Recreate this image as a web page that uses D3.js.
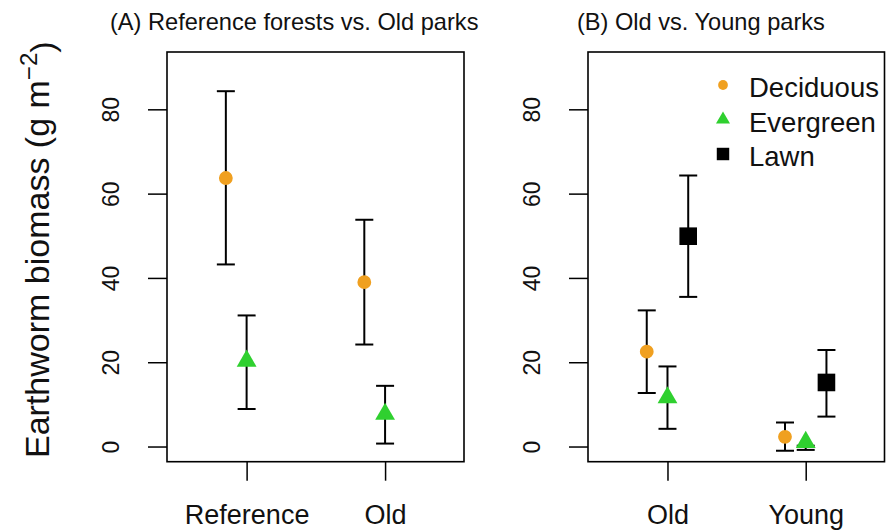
<!DOCTYPE html>
<html>
<head>
<meta charset="utf-8">
<script src="https://cdn.jsdelivr.net/npm/d3@7"></script>
<style>
  body { margin: 0; background: #fff; }
  svg { display: block; font-family: "Liberation Sans", Arial, sans-serif; }
</style>
</head>
<body>
<div class="chart"></div>
<script>
// panel categories
var catsA = ["Reference", "Old"];
var catsB = ["Old", "Young"];
var yTicks = [0, 20, 40, 60, 80];

// (A) Reference forests vs. Old parks
var decidA_mean = [63.7, 39.0];
var decidA_lo = [43.2, 24.2];
var decidA_hi = [84.3, 53.8];
var everA_mean = [20.3, 7.7];
var everA_lo = [8.9, 0.7];
var everA_hi = [31.1, 14.4];

// (B) Old vs. Young parks
var decidB_mean = [22.5, 2.3];
var decidB_lo = [12.7, -1.0];
var decidB_hi = [32.3, 5.7];
var everB_mean = [11.6, 1.0];
var everB_lo = [4.2, -0.8];
var everB_hi = [19.0, 0.2];
var lawnB_mean = [49.9, 15.2];
var lawnB_lo = [35.5, 7.1];
var lawnB_hi = [64.3, 22.9];

var legendNames = ["Deciduous", "Evergreen", "Lawn"];

var W = 893, H = 530;
var top_ = 52, bottom_ = 461.7;
var colors = { Deciduous: "#f0a020", Evergreen: "#2fd02f", Lawn: "#000000" };
var shapes = { Deciduous: d3.symbolCircle, Evergreen: d3.symbolTriangle, Lawn: d3.symbolSquare };
var sizes = { Deciduous: 150, Evergreen: 170, Lawn: 310 };
var offsets = { Deciduous: -0.15, Evergreen: 0, Lawn: 0.15 };

var svg = d3.select(".chart").append("svg")
  .attr("width", W)
  .attr("height", H);

var y = d3.scaleLinear().domain([-3.6, 93.6]).range([bottom_, top_]);

function makeSeries(name, mean, lo, hi) {
  var out = [];
  for (var i = 0; i < mean.length; i++) {
    out.push({ name: name, i: i + 1, mean: mean[i], lo: lo[i], hi: hi[i] });
  }
  return out;
}

function drawPanel(left, right, title, titleX, cats, series) {
  var x = d3.scaleLinear().domain([0.425, 2.57]).range([left, right]);
  var g = svg.append("g");

  // y axis
  var yAxis = d3.axisLeft(y).tickValues(yTicks).tickSize(19).tickFormat(d3.format("d"));
  var ya = g.append("g")
    .attr("transform", "translate(" + left + ",0)")
    .call(yAxis);
  ya.select(".domain").remove();
  ya.selectAll(".tick line").attr("stroke", "#000").attr("stroke-width", 1.5);
  ya.selectAll(".tick text")
    .attr("x", null).attr("dy", null)
    .attr("transform", "translate(-48,0) rotate(-90)")
    .attr("text-anchor", "middle")
    .attr("fill", "#111")
    .style("font-size", "23px");

  // x axis
  var xAxis = d3.axisBottom(x).tickValues([1, 2]).tickSize(19)
    .tickFormat(function(d) { return cats[d - 1]; });
  var xa = g.append("g")
    .attr("transform", "translate(0," + bottom_ + ")")
    .call(xAxis);
  xa.select(".domain").remove();
  xa.selectAll(".tick line").attr("stroke", "#000").attr("stroke-width", 1.5);
  xa.selectAll(".tick text")
    .attr("y", 62).attr("dy", null)
    .attr("fill", "#111")
    .style("font-size", "27px");

  // box
  g.append("rect")
    .attr("x", left).attr("y", top_)
    .attr("width", right - left).attr("height", bottom_ - top_)
    .attr("fill", "none").attr("stroke", "#000").attr("stroke-width", 1.6);

  // title
  g.append("text")
    .attr("x", titleX).attr("y", 30)
    .attr("fill", "#111")
    .style("font-size", "23.6px")
    .text(title);

  series.forEach(function(s) {
    var px = function(d) { return x(d.i + offsets[d.name]); };
    var bars = g.append("g");
    bars.selectAll(".stem").data(s).enter().append("line")
      .attr("x1", px).attr("x2", px)
      .attr("y1", function(d) { return y(d.lo); })
      .attr("y2", function(d) { return y(d.hi); })
      .attr("stroke", "#000").attr("stroke-width", 2);
    ["lo", "hi"].forEach(function(k) {
      bars.selectAll(".cap-" + k).data(s).enter().append("line")
        .attr("x1", function(d) { return px(d) - 9; })
        .attr("x2", function(d) { return px(d) + 9; })
        .attr("y1", function(d) { return y(d[k]); })
        .attr("y2", function(d) { return y(d[k]); })
        .attr("stroke", "#000").attr("stroke-width", 2);
    });
    g.selectAll(null).data(s).enter().append("path")
      .attr("transform", function(d) { return "translate(" + px(d) + "," + y(d.mean) + ")"; })
      .attr("d", function(d) { return d3.symbol().type(shapes[d.name]).size(sizes[d.name])(); })
      .attr("fill", function(d) { return colors[d.name]; });
  });
}

drawPanel(167, 464, "(A) Reference forests vs. Old parks", 110, catsA, [
  makeSeries("Deciduous", decidA_mean, decidA_lo, decidA_hi),
  makeSeries("Evergreen", everA_mean, everA_lo, everA_hi)
]);

drawPanel(588, 884.5, "(B) Old vs. Young parks", 577, catsB, [
  makeSeries("Deciduous", decidB_mean, decidB_lo, decidB_hi),
  makeSeries("Evergreen", everB_mean, everB_lo, everB_hi),
  makeSeries("Lawn", lawnB_mean, lawnB_lo, lawnB_hi)
]);

// legend in panel B
var legend = svg.append("g").attr("transform", "translate(723,85)");
legendNames.forEach(function(name, i) {
  var row = legend.append("g").attr("transform", "translate(0," + (i * 34.5) + ")");
  row.append("path")
    .attr("d", d3.symbol().type(shapes[name]).size(sizes[name] * 0.5)())
    .attr("fill", colors[name]);
  row.append("text")
    .attr("x", 26).attr("y", 12)
    .attr("fill", "#111")
    .style("font-size", "27.5px")
    .text(name);
});

// y title
var yt = svg.append("text")
  .attr("transform", "translate(48.5,458) rotate(-90)")
  .attr("fill", "#111")
  .style("font-size", "34px");
yt.append("tspan").text("Earthworm biomass (g m");
yt.append("tspan").attr("dy", "-0.5em").style("font-size", "24px").text("\u22122");
yt.append("tspan").attr("dy", "0.5em").text(")");
</script>
</body>
</html>
